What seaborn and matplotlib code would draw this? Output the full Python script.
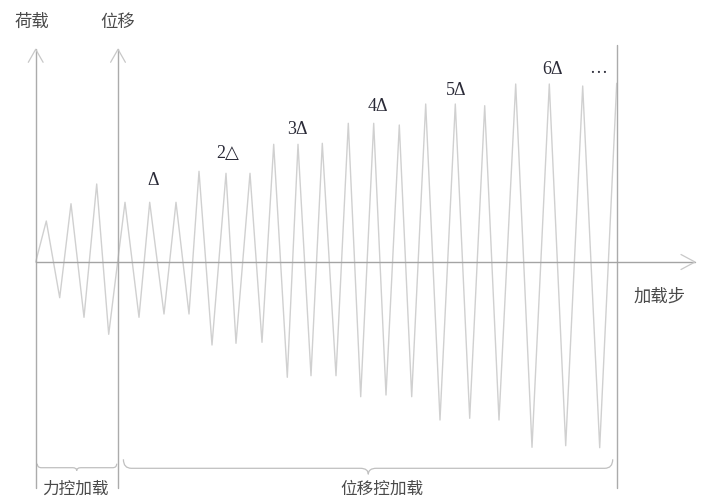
import numpy as np
import pandas as pd
import matplotlib
matplotlib.use("Agg")
import matplotlib.pyplot as plt
from matplotlib.path import Path
from matplotlib.patches import PathPatch
import seaborn as sns

# ---------------------------------------------------------------------
# data: loading history (vertex positions of the zig-zag)
# ---------------------------------------------------------------------
step_x = [0, 10.6, 24, 35.3, 48.3, 61, 73,
          89.3, 103.3, 114, 128.3, 140.3, 153.3,
          163.3, 176.3, 190.3, 200.3, 214.3, 226.3,
          238, 251.6, 262.3, 275.3, 286.6, 300.3,
          312.6, 325, 338, 350.3, 363.6, 376,
          390, 404.3, 419.6, 434, 449, 463.3,
          480, 496.3, 513.6, 530, 547, 564, 581]
load_y = [0, 41, -35.7, 58.3, -55.3, 78, -72.3,
          59.7, -55.3, 59.7, -52, 59.7, -52,
          90.7, -83, 88.7, -81.3, 88.7, -80.3,
          117.7, -115.3, 117.7, -113.7, 118.7, -113.7,
          138.7, -134.7, 138.7, -133, 137, -134.7,
          158, -158, 158, -156.3, 156.3, -158,
          178, -185.3, 178, -183.7, 176, -185.7, 178.7]

# level labels
level_labels = ["Δ", "2△", "3Δ", "4Δ", "5Δ", "6Δ"]
level_x = [117.3, 192.3, 262, 342.3, 420, 516.6]
level_y = [81.3, 108, 132.7, 155.3, 171.3, 192]

# phase boundaries (load step)
force_end = 82.3
disp_end = 581.6

df = pd.DataFrame({"step": step_x, "load": load_y})

sns.set_theme(style="white")
plt.rcParams["font.family"] = ["Noto Sans CJK SC", "DejaVu Sans"]

fig = plt.figure(figsize=(7.04, 4.99), dpi=100)
ax = fig.add_axes([0, 0, 1, 1])
ax.set_xlim(-35.7, 704 - 35.7)
ax.set_ylim(262 - 499, 262)
ax.axis("off")

sns.lineplot(data=df, x="step", y="load", ax=ax, color="#d0d0d0", lw=1.0,
             sort=False, estimator=None)

axis_c = "#ababab"
y_top = 262 - 49.3
y_bot = 262 - 488

# axes with open arrowheads
for xv in [0, force_end]:
    ax.plot([xv, xv], [y_bot, y_top], color=axis_c, lw=1.0)
    ax.plot([xv - 7.4, xv, xv + 7.4], [y_top - 13, y_top, y_top - 13], color="#c8c8c8", lw=0.9)
ax.plot([disp_end, disp_end], [y_bot, 262 - 45], color=axis_c, lw=1.0)
x_tip = 695 - 35.7
ax.plot([0, x_tip], [0, 0], color="#a4a4a4", lw=1.0)
ax.plot([x_tip - 14, x_tip, x_tip - 14], [7.5, 0, -7.5], color="#c8c8c8", lw=0.9)


def brace(x0, x1, xm, y0, h_end, h_tip, r):
    verts = [(x0, y0 + h_end), (x0, y0), (x0 + r, y0),
             (xm - r, y0),
             (xm, y0), (xm, y0 - h_tip),
             (xm, y0), (xm + r, y0),
             (x1 - r, y0),
             (x1, y0), (x1, y0 + h_end)]
    codes = [Path.MOVETO, Path.CURVE3, Path.CURVE3,
             Path.LINETO,
             Path.CURVE3, Path.CURVE3,
             Path.CURVE3, Path.CURVE3,
             Path.LINETO,
             Path.CURVE3, Path.CURVE3]
    ax.add_patch(PathPatch(Path(verts, codes), fill=False, ec="#c0c0c0", lw=0.9))


brace(1.6, 81, 41, -205.7, 4, 3, 4)
brace(87.7, 577, 332.6, -206.3, 9, 6, 8)

# texts
cn = dict(color="#4a4a4a", fontsize=12.5, ha="center", va="center", fontweight="light")
ax.text(-3.7, 240.3, "荷载", **cn)
ax.text(81.8, 240.3, "位移", **cn)
ax.text(624, -34.7, "加载步", **cn)
cn_b = dict(cn, fontsize=12)
ax.text(39.3, -227.5, "力控加载", **cn_b)
ax.text(346.3, -227.5, "位移控加载", **cn_b)

for lab, lx, ly in zip(level_labels, level_x, level_y):
    ax.text(lx, ly, lab, ha="center", va="center", fontsize=13, color="#2b2b38",
            family=["Liberation Serif", "DejaVu Serif"])
ax.text(562.3, 189, "…", ha="center", va="baseline", fontsize=13, color="#2b2b38",
        family=["Liberation Serif", "DejaVu Serif"])

fig.savefig("out.png", dpi=100)
